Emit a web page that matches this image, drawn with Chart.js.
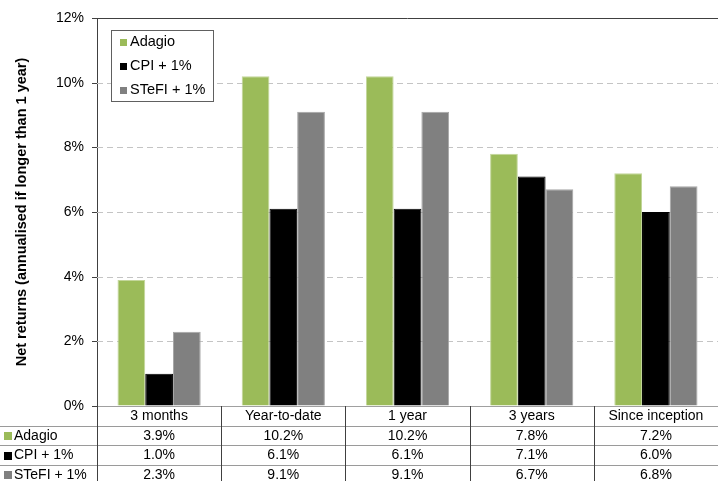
<!DOCTYPE html>
<html>
<head>
<meta charset="utf-8">
<script src="https://cdn.jsdelivr.net/npm/chart.js@4/dist/chart.umd.min.js"></script>
<style>
  html, body { margin: 0; padding: 0; background: #fff; }
  #wrap { width: 718px; height: 481px; position: relative; }
</style>
</head>
<body>
<div id="wrap"><canvas id="c" width="718" height="481"></canvas></div>
<script>
const categories = ['3 months', 'Year-to-date', '1 year', '3 years', 'Since inception'];
const seriesNames = ['Adagio', 'CPI + 1%', 'STeFI + 1%'];
const adagio = [3.9, 10.2, 10.2, 7.8, 7.2];
const cpi = [1.0, 6.1, 6.1, 7.1, 6.0];
const stefi = [2.3, 9.1, 9.1, 6.7, 6.8];
const yTicks = [0, 2, 4, 6, 8, 10, 12];
const yTitle = 'Net returns (annualised if longer than 1 year)';

const fillColors = ['#9BBB59', '#000000', '#808080'];
const borderColors = ['#C3D69B', '#000000', '#A6A6A6'];
const FONT = '"Liberation Sans", Arial, sans-serif';

const gridPlugin = {
  id: 'gridPlugin',
  beforeDatasetsDraw(chart) {
    const ctx = chart.ctx;
    const ys = chart.scales.y;
    const area = chart.chartArea;
    ctx.save();
    ctx.lineWidth = 1;
    yTicks.forEach(v => {
      const y = Math.round(ys.getPixelForValue(v)) + 0.5;
      if (v !== 0 && v !== 12) {
        ctx.strokeStyle = '#c4c4c4';
        ctx.setLineDash([6, 4]);
        ctx.beginPath();
        ctx.moveTo(area.left, y);
        ctx.lineTo(area.right, y);
        ctx.stroke();
      }
      ctx.setLineDash([]);
      ctx.strokeStyle = '#404040';
      ctx.beginPath();
      ctx.moveTo(area.left - 5, y);
      ctx.lineTo(area.left, y);
      ctx.stroke();
    });
    ctx.restore();
  }
};

const tablePlugin = {
  id: 'tablePlugin',
  afterDraw(chart) {
    const ctx = chart.ctx;
    const xs = chart.scales.x;
    const area = chart.chartArea;
    const n = categories.length;
    const cw = (area.right - area.left) / n;
    const top = area.bottom;
    const rowH = 19.6;
    const W = chart.width, H = chart.height;
    ctx.save();
    ctx.strokeStyle = '#9a9a9a';
    ctx.lineWidth = 1;
    for (let r = 1; r <= 3; r++) {
      const y = Math.round(top + rowH * r) + 0.5;
      ctx.beginPath();
      ctx.moveTo(0, y);
      ctx.lineTo(W, y);
      ctx.stroke();
    }
    ctx.strokeStyle = '#404040';
    for (let i = 0; i < n; i++) {
      const x = Math.round(area.left + cw * i) + 0.5;
      ctx.beginPath();
      ctx.moveTo(x, top);
      ctx.lineTo(x, H);
      ctx.stroke();
    }
    ctx.font = '14px ' + FONT;
    ctx.fillStyle = '#000';
    ctx.textAlign = 'center';
    ctx.textBaseline = 'middle';
    const rows = [adagio, cpi, stefi];
    for (let i = 0; i < n; i++) {
      const cx = xs.getPixelForValue(i);
      ctx.fillText(categories[i], cx, top + rowH * 0.5 + 0.5);
      for (let r = 0; r < 3; r++) {
        ctx.fillText(rows[r][i].toFixed(1) + '%', cx, top + rowH * (r + 1.5) + 0.5);
      }
    }
    ctx.textAlign = 'left';
    for (let r = 0; r < 3; r++) {
      const cy = top + rowH * (r + 1.5) + 0.5;
      ctx.fillStyle = fillColors[r];
      ctx.fillRect(4, Math.round(cy - 4), 8, 8);
      ctx.fillStyle = '#000';
      ctx.fillText(seriesNames[r], 14, cy);
    }
    // legend box
    const lx = 111, ly = 30, lw = 102, lh = 71;
    ctx.fillStyle = '#fff';
    ctx.fillRect(lx, ly, lw, lh);
    ctx.strokeStyle = '#606060';
    ctx.strokeRect(lx + 0.5, ly + 0.5, lw, lh);
    ctx.font = '14.5px ' + FONT;
    for (let r = 0; r < 3; r++) {
      const cy = 42 + r * 24;
      ctx.fillStyle = fillColors[r];
      ctx.fillRect(120, Math.round(cy - 3), 7, 7);
      ctx.fillStyle = '#000';
      ctx.fillText(seriesNames[r], 130, cy);
    }
    ctx.strokeStyle = '#404040';
    ctx.beginPath();
    ctx.moveTo(area.left, Math.round(area.top) + 0.5);
    ctx.lineTo(area.right, Math.round(area.top) + 0.5);
    ctx.stroke();
    ctx.restore();
  }
};

new Chart(document.getElementById('c'), {
  type: 'bar',
  data: {
    labels: categories,
    datasets: [adagio, cpi, stefi].map((d, i) => ({
      label: seriesNames[i],
      data: d,
      backgroundColor: fillColors[i],
      borderColor: borderColors[i],
      borderWidth: 1,
      categoryPercentage: 0.67,
      barPercentage: 1.0
    }))
  },
  options: {
    responsive: false,
    animation: false,
    devicePixelRatio: 1,
    layout: { padding: { top: 18, right: 0, bottom: 75, left: 0 } },
    plugins: {
      legend: { display: false },
      tooltip: { enabled: false }
    },
    scales: {
      x: {
        ticks: { display: false },
        grid: { display: false },
        border: { display: true, color: '#a0a0a0', width: 1 },
        afterFit(s) { s.height = 0; }
      },
      y: {
        min: 0,
        max: 12,
        afterBuildTicks(s) { s.ticks = yTicks.map(v => ({ value: v })); },
        ticks: {
          callback: v => v + '%',
          font: { family: FONT, size: 14 },
          color: '#000',
          padding: 8
        },
        grid: {
          display: true,
          color: 'rgba(0,0,0,0)',
          drawTicks: true,
          tickLength: 5,
          tickColor: 'rgba(0,0,0,0)'
        },
        border: { display: true, color: '#404040', width: 1 },
        title: {
          display: true,
          text: yTitle,
          font: { family: FONT, size: 14.5, weight: 'bold' },
          color: '#000',
          padding: { top: 13, bottom: 0 }
        },
        afterFit(s) { s.width = 97; }
      }
    }
  },
  plugins: [gridPlugin, tablePlugin]
});
</script>
</body>
</html>
